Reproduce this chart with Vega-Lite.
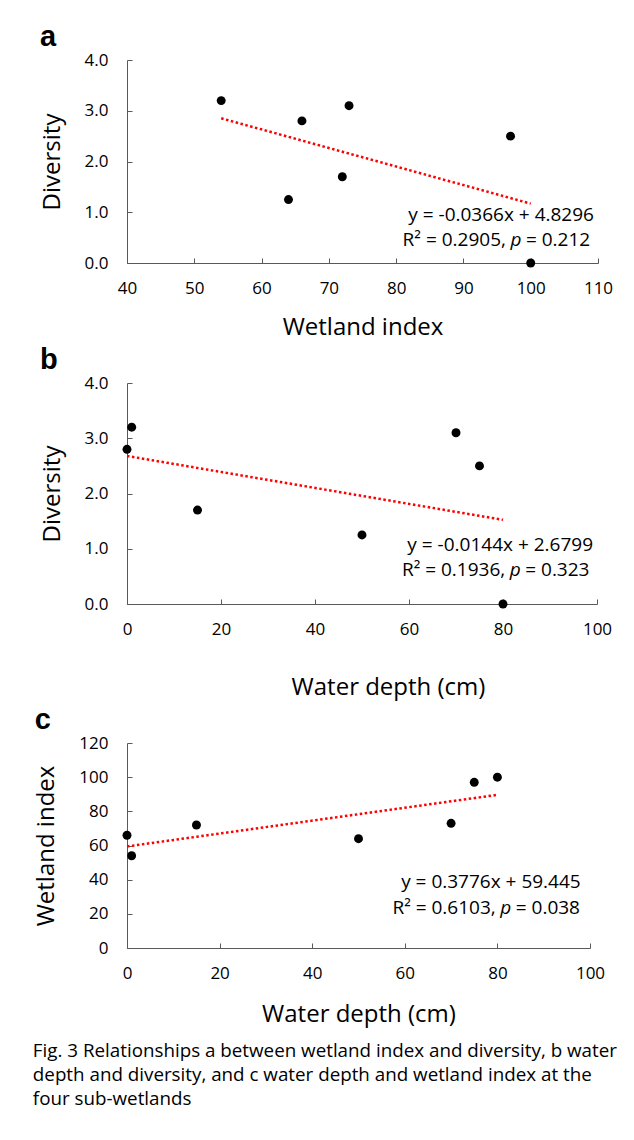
{
  "$schema": "https://vega.github.io/schema/vega-lite/v6.json",
  "background": "white",
  "padding": {"left": 32, "top": 23, "right": 8, "bottom": 10},
  "spacing": 7,
  "datasets": {
    "sites": [
      {"wetland_index": 54, "water_depth": 1, "diversity": 3.2},
      {"wetland_index": 64, "water_depth": 50, "diversity": 1.25},
      {"wetland_index": 66, "water_depth": 0, "diversity": 2.8},
      {"wetland_index": 72, "water_depth": 15, "diversity": 1.7},
      {"wetland_index": 73, "water_depth": 70, "diversity": 3.1},
      {"wetland_index": 97, "water_depth": 75, "diversity": 2.5},
      {"wetland_index": 100, "water_depth": 80, "diversity": 0}
    ]
  },
  "config": {
    "view": {"stroke": null},
    "axis": {
      "grid": false,
      "domainColor": "#595959",
      "domainWidth": 1,
      "tickColor": "#595959",
      "tickSize": -5,
      "tickWidth": 1,
      "labelFont": "Open Sans",
      "labelFontSize": 17,
      "labelColor": "#000000",
      "labelFlush": false,
      "labelOverlap": false,
      "titleFont": "Open Sans",
      "titleFontSize": 24,
      "titleFontWeight": "normal",
      "titleColor": "#000000"
    },
    "axisX": {"labelPadding": 22, "titlePadding": 19},
    "axisY": {"labelPadding": 24, "titlePadding": 20},
    "text": {"font": "Open Sans", "fontSize": 19, "color": "#000000", "baseline": "middle"},
    "title": {"font": "Liberation Sans", "fontSize": 29, "fontWeight": "bold", "color": "#000000", "anchor": "start", "offset": -1}
  },
  "title": {
    "text": [
      "Fig. 3 Relationships a between wetland index and diversity, b water",
      "depth and diversity, and c water depth and wetland index at the",
      "four sub-wetlands"
    ],
    "orient": "bottom",
    "anchor": "start",
    "font": "Open Sans",
    "fontSize": 18.8,
    "fontWeight": "normal",
    "lineHeight": 24,
    "offset": 16,
    "dx": -2,
    "color": "#000000"
  },
  "vconcat": [
    {
      "title": {"text": "a"},
      "width": 471,
      "height": 203,
      "layer": [
        {
          "data": {"name": "sites"},
          "encoding": {
            "x": {"field": "wetland_index", "type": "quantitative", "title": "Wetland index",
                  "scale": {"domain": [40, 110], "nice": false},
                  "axis": {"values": [40, 50, 60, 70, 80, 90, 100, 110], "labelOverlap": false}},
            "y": {"field": "diversity", "type": "quantitative", "title": "Diversity",
                  "scale": {"domain": [0, 4], "nice": false},
                  "axis": {"values": [0, 1, 2, 3, 4], "format": ".1f", "labelOverlap": false}}
          },
          "layer": [
            {
              "transform": [{"regression": "diversity", "on": "wetland_index"}],
              "mark": {"type": "line", "color": "#ff0000", "strokeDash": [2.5, 2.5], "strokeWidth": 2.5}
            },
            {"mark": {"type": "point", "filled": true, "color": "#000000", "opacity": 1, "size": 80}}
          ]
        },
        {
          "data": {"values": [{"t": "y = -0.0366x + 4.8296"}]},
          "mark": {"type": "text", "align": "center"},
          "encoding": {"x": {"datum": 95.6}, "y": {"datum": 0.95}, "text": {"field": "t"}}
        },
        {
          "data": {"values": [{"t": "R² = 0.2905,"}]},
          "mark": {"type": "text", "align": "right", "dx": -10},
          "encoding": {"x": {"datum": 97.8}, "y": {"datum": 0.46}, "text": {"field": "t"}}
        },
        {
          "data": {"values": [{"t": "p"}]},
          "mark": {"type": "text", "align": "center", "fontStyle": "italic"},
          "encoding": {"x": {"datum": 97.8}, "y": {"datum": 0.46}, "text": {"field": "t"}}
        },
        {
          "data": {"values": [{"t": "= 0.212"}]},
          "mark": {"type": "text", "align": "left", "dx": 10},
          "encoding": {"x": {"datum": 97.8}, "y": {"datum": 0.46}, "text": {"field": "t"}}
        }
      ]
    },
    {
      "title": {"text": "b"},
      "width": 470,
      "height": 221,
      "layer": [
        {
          "data": {"name": "sites"},
          "encoding": {
            "x": {"field": "water_depth", "type": "quantitative", "title": "Water depth (cm)",
                  "scale": {"domain": [0, 100], "nice": false},
                  "axis": {"values": [0, 20, 40, 60, 80, 100], "labelOverlap": false, "titlePadding": 38, "titleX": 261}},
            "y": {"field": "diversity", "type": "quantitative", "title": "Diversity",
                  "scale": {"domain": [0, 4], "nice": false},
                  "axis": {"values": [0, 1, 2, 3, 4], "format": ".1f", "labelOverlap": false}}
          },
          "layer": [
            {
              "transform": [{"regression": "diversity", "on": "water_depth"}],
              "mark": {"type": "line", "color": "#ff0000", "strokeDash": [2.5, 2.5], "strokeWidth": 2.5}
            },
            {"mark": {"type": "point", "filled": true, "color": "#000000", "opacity": 1, "size": 80}}
          ]
        },
        {
          "data": {"values": [{"t": "y = -0.0144x + 2.6799"}]},
          "mark": {"type": "text", "align": "center"},
          "encoding": {"x": {"datum": 79.4}, "y": {"datum": 1.07}, "text": {"field": "t"}}
        },
        {
          "data": {"values": [{"t": "R² = 0.1936,"}]},
          "mark": {"type": "text", "align": "right", "dx": -10},
          "encoding": {"x": {"datum": 82.6}, "y": {"datum": 0.615}, "text": {"field": "t"}}
        },
        {
          "data": {"values": [{"t": "p"}]},
          "mark": {"type": "text", "align": "center", "fontStyle": "italic"},
          "encoding": {"x": {"datum": 82.6}, "y": {"datum": 0.615}, "text": {"field": "t"}}
        },
        {
          "data": {"values": [{"t": "= 0.323"}]},
          "mark": {"type": "text", "align": "left", "dx": 10},
          "encoding": {"x": {"datum": 82.6}, "y": {"datum": 0.615}, "text": {"field": "t"}}
        }
      ]
    },
    {
      "title": {"text": "c"},
      "width": 463,
      "height": 205,
      "layer": [
        {
          "data": {"name": "sites"},
          "encoding": {
            "x": {"field": "water_depth", "type": "quantitative", "title": "Water depth (cm)",
                  "scale": {"domain": [0, 100], "nice": false},
                  "axis": {"values": [0, 20, 40, 60, 80, 100], "labelOverlap": false, "titlePadding": 21}},
            "y": {"field": "wetland_index", "type": "quantitative", "title": "Wetland index",
                  "scale": {"domain": [0, 120], "nice": false},
                  "axis": {"values": [0, 20, 40, 60, 80, 100, 120], "labelOverlap": false}}
          },
          "layer": [
            {
              "transform": [{"regression": "wetland_index", "on": "water_depth"}],
              "mark": {"type": "line", "color": "#ff0000", "strokeDash": [2.5, 2.5], "strokeWidth": 2.5}
            },
            {"mark": {"type": "point", "filled": true, "color": "#000000", "opacity": 1, "size": 80}}
          ]
        },
        {
          "data": {"values": [{"t": "y = 0.3776x + 59.445"}]},
          "mark": {"type": "text", "align": "center"},
          "encoding": {
            "x": {"datum": 78.6, "axis": {"values": [0, 20, 40, 60, 80, 100], "labelOverlap": false, "titlePadding": 21}},
            "y": {"datum": 38.6, "axis": {"values": [0, 20, 40, 60, 80, 100, 120], "labelOverlap": false}},
            "text": {"field": "t"}
          }
        },
        {
          "data": {"values": [{"t": "R² = 0.6103,"}]},
          "mark": {"type": "text", "align": "right", "dx": -10},
          "encoding": {
            "x": {"datum": 81.8, "axis": {"values": [0, 20, 40, 60, 80, 100], "labelOverlap": false, "titlePadding": 21}},
            "y": {"datum": 23.4, "axis": {"values": [0, 20, 40, 60, 80, 100, 120], "labelOverlap": false}},
            "text": {"field": "t"}
          }
        },
        {
          "data": {"values": [{"t": "p"}]},
          "mark": {"type": "text", "align": "center", "fontStyle": "italic"},
          "encoding": {
            "x": {"datum": 81.8, "axis": {"values": [0, 20, 40, 60, 80, 100], "labelOverlap": false, "titlePadding": 21}},
            "y": {"datum": 23.4, "axis": {"values": [0, 20, 40, 60, 80, 100, 120], "labelOverlap": false}},
            "text": {"field": "t"}
          }
        },
        {
          "data": {"values": [{"t": "= 0.038"}]},
          "mark": {"type": "text", "align": "left", "dx": 10},
          "encoding": {
            "x": {"datum": 81.8, "axis": {"values": [0, 20, 40, 60, 80, 100], "labelOverlap": false, "titlePadding": 21}},
            "y": {"datum": 23.4, "axis": {"values": [0, 20, 40, 60, 80, 100, 120], "labelOverlap": false}},
            "text": {"field": "t"}
          }
        }
      ]
    }
  ]
}
